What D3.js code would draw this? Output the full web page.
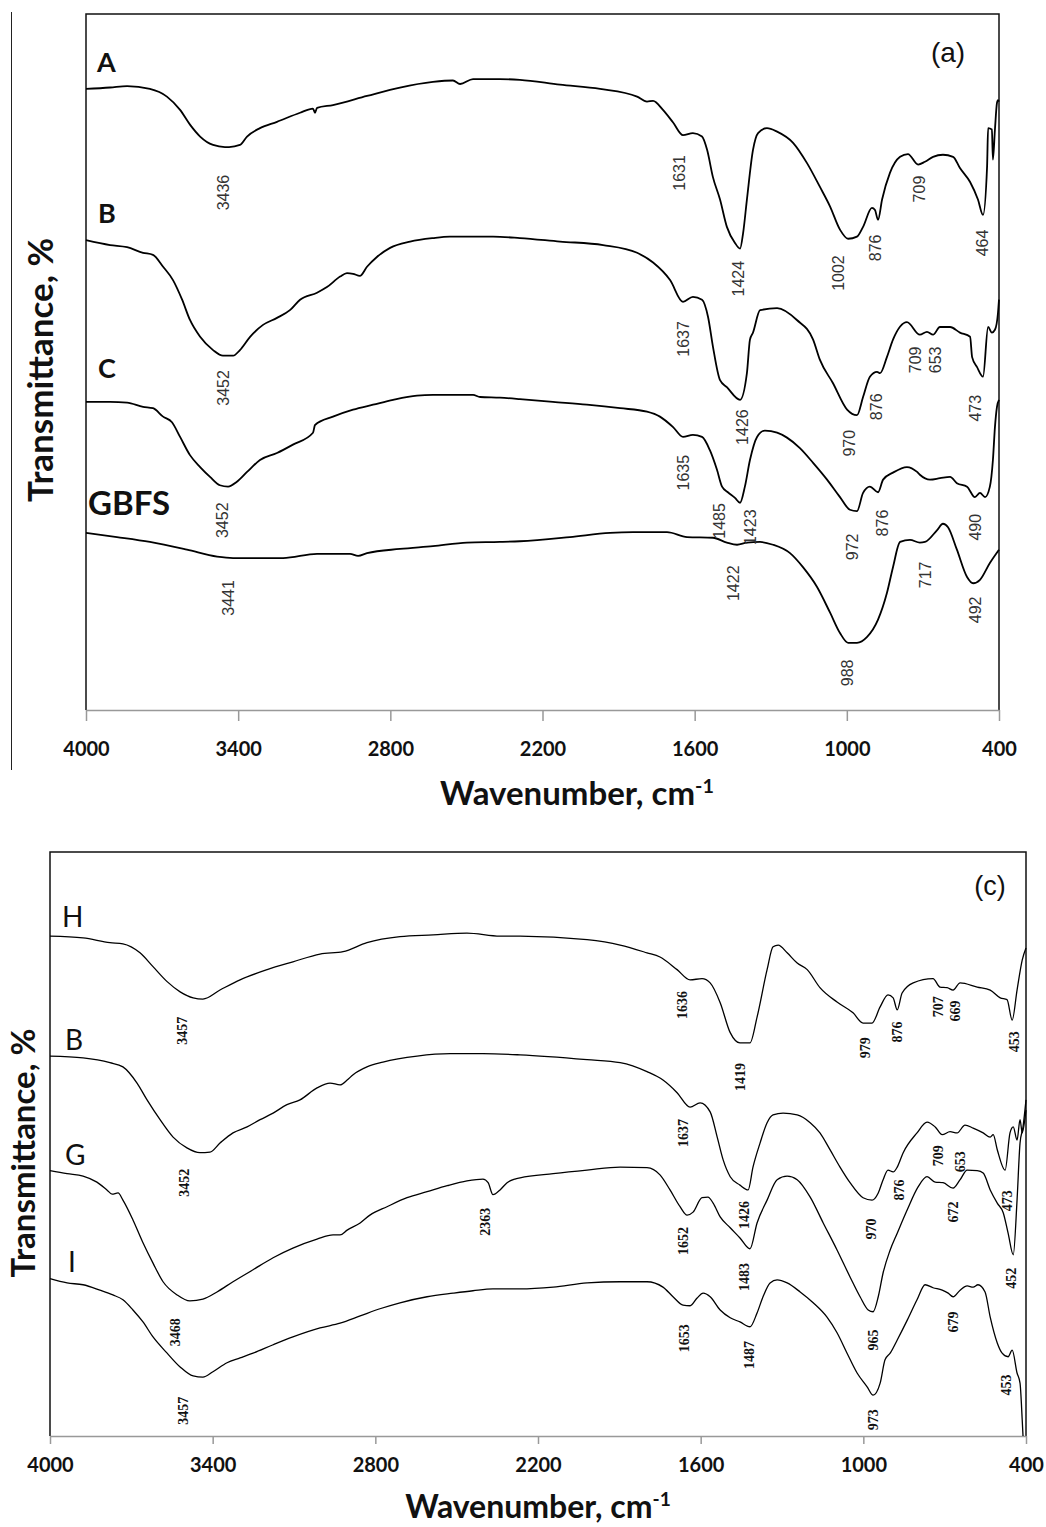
<!DOCTYPE html>
<html>
<head>
<meta charset="utf-8">
<script src="https://cdn.jsdelivr.net/npm/d3@7"></script>
<style>
  html, body { margin: 0; padding: 0; background: #fff; }
  svg { display: block; }
</style>
</head>
<body>
<div id="chart"></div>
<script>
// ---- data: [wavenumber cm-1, transmittance (offset, a.u.)] ----
const specA = [[4000,88.7],[3905,88.9],[3838,89.1],[3748,88.7],[3681,87.6],[3629,85.7],[3590,83.6],[3550,81.9],[3499,80.7],[3452,80.4],[3436,80.4],[3393,80.7],[3365,81.9],[3314,83.1],[3247,84.0],[3156,85.3],[3105,85.9],[3097,85.3],[3089,86.0],[3026,86.4],[2892,87.7],[2762,88.9],[2632,89.7],[2553,89.9],[2525,89.4],[2474,90.1],[2368,90.1],[2289,90.0],[2131,89.3],[1973,88.7],[1827,87.6],[1788,86.9],[1764,87.0],[1725,85.7],[1685,83.9],[1646,82.1],[1607,82.4],[1571,81.9],[1551,80.0],[1528,76.1],[1500,72.9],[1473,69.0],[1441,66.7],[1421,65.9],[1409,68.1],[1394,72.9],[1370,80.0],[1350,82.4],[1315,83.1],[1275,82.6],[1212,81.0],[1157,78.1],[1106,74.7],[1066,71.9],[1027,68.6],[995,67.3],[960,67.6],[936,69.0],[901,71.7],[889,71.4],[877,70.0],[861,72.9],[830,76.7],[790,79.0],[759,79.4],[719,77.9],[692,78.3],[660,79.0],[621,79.3],[581,79.0],[554,77.4],[514,75.4],[483,72.9],[463,70.7],[447,77.6],[443,83.1],[428,82.9],[424,78.6],[416,82.9],[408,86.7],[404,87.1],[400,86.9]];

const specB = [[4000,67.1],[3905,66.4],[3838,66.1],[3775,65.3],[3736,65.0],[3696,63.3],[3657,61.4],[3621,58.6],[3590,55.7],[3550,53.3],[3499,51.4],[3460,50.6],[3420,50.6],[3393,51.4],[3353,53.3],[3302,55.0],[3247,56.0],[3196,57.1],[3156,58.6],[3089,59.6],[3050,60.4],[2998,61.9],[2971,62.4],[2947,62.3],[2920,62.0],[2892,63.3],[2853,64.7],[2801,66.0],[2722,66.9],[2632,67.4],[2565,67.6],[2395,67.6],[2289,67.4],[2131,66.9],[1961,66.4],[1827,65.3],[1764,63.9],[1697,61.4],[1646,58.3],[1607,59.0],[1571,58.6],[1547,56.1],[1528,51.9],[1500,47.1],[1473,46.1],[1421,44.3],[1394,48.1],[1382,52.9],[1370,53.9],[1342,57.1],[1275,57.4],[1197,55.7],[1133,52.9],[1106,50.0],[1055,46.7],[999,42.9],[960,42.1],[936,44.7],[909,47.6],[881,48.3],[869,48.1],[842,50.4],[818,52.9],[763,55.4],[712,53.6],[684,54.0],[660,53.6],[633,54.7],[593,54.7],[554,53.9],[514,53.3],[506,50.4],[487,49.0],[463,47.6],[443,54.7],[428,53.9],[416,54.3],[404,56.7],[400,58.6]];

const specC = [[4000,44.0],[3905,44.0],[3838,43.9],[3775,43.3],[3736,43.1],[3696,41.9],[3661,41.1],[3629,39.0],[3590,36.4],[3550,34.7],[3511,33.3],[3472,32.1],[3440,31.9],[3405,32.6],[3365,34.0],[3314,35.7],[3247,36.7],[3184,37.9],[3105,39.6],[3097,40.7],[3026,41.9],[2947,42.9],[2868,43.6],[2789,44.3],[2695,44.9],[2632,45.0],[2474,45.0],[2446,44.7],[2368,44.6],[2289,44.4],[2159,44.0],[2025,43.6],[1894,43.1],[1788,42.6],[1737,41.9],[1685,40.4],[1646,39.0],[1607,39.3],[1571,39.0],[1540,37.1],[1512,34.3],[1492,31.9],[1469,31.1],[1441,30.3],[1421,29.6],[1402,31.9],[1382,35.7],[1354,39.0],[1323,39.9],[1275,39.6],[1236,38.9],[1185,37.4],[1133,35.3],[1078,32.9],[1027,30.4],[988,28.6],[960,28.4],[936,31.0],[909,31.9],[877,31.1],[857,32.9],[818,33.9],[763,34.7],[723,34.0],[712,33.6],[672,32.9],[633,33.1],[593,33.3],[566,32.4],[526,31.9],[495,30.4],[475,31.0],[455,30.4],[436,31.9],[424,35.7],[416,40.4],[408,43.3],[400,44.3]];

const specGBFS = [[4000,25.3],[3878,24.7],[3748,24.0],[3602,22.9],[3483,21.9],[3420,21.7],[3223,21.7],[3089,22.3],[2959,22.3],[2927,22.0],[2892,22.4],[2762,23.0],[2632,23.4],[2498,23.9],[2368,24.0],[2289,24.1],[2092,24.7],[1934,25.3],[1843,25.4],[1709,25.4],[1630,24.7],[1528,24.6],[1473,23.9],[1433,23.6],[1394,23.9],[1342,24.0],[1291,23.6],[1224,22.4],[1173,20.4],[1118,17.6],[1066,13.9],[1027,11.0],[995,9.6],[960,9.6],[921,10.4],[877,12.9],[842,16.7],[818,20.4],[790,24.0],[751,24.3],[712,23.9],[692,24.0],[644,25.7],[621,26.6],[601,26.1],[566,22.9],[526,19.0],[502,18.1],[475,18.6],[436,21.0],[400,22.9]];

const specH = [[4000,83.3],[3878,83.0],[3779,82.2],[3731,82.0],[3668,80.5],[3620,78.2],[3568,75.7],[3520,74.0],[3472,73.0],[3436,72.8],[3373,74.3],[3299,76.0],[3199,77.7],[3104,79.0],[3004,80.3],[2919,80.7],[2831,82.2],[2709,83.2],[2587,83.5],[2462,83.8],[2340,83.3],[2266,83.3],[2019,82.7],[1897,81.8],[1798,80.5],[1750,79.8],[1687,77.7],[1639,76.0],[1595,76.2],[1565,75.5],[1528,72.2],[1491,67.2],[1455,65.5],[1418,65.5],[1392,69.8],[1355,77.7],[1333,81.5],[1314,81.8],[1281,80.5],[1244,78.8],[1207,77.7],[1160,74.7],[1097,72.3],[1038,70.5],[1001,68.8],[968,68.8],[938,71.5],[909,73.5],[890,73.0],[875,71.0],[857,73.8],[816,75.5],[743,76.2],[717,74.8],[691,74.7],[669,74.3],[643,75.5],[580,74.8],[532,74.3],[495,73.0],[470,72.7],[451,69.3],[433,74.3],[414,79.3],[400,81.3]];

const specB2 = [[4000,63.3],[3878,63.0],[3779,62.2],[3731,61.5],[3679,58.8],[3642,56.0],[3594,52.7],[3546,49.8],[3495,48.0],[3447,47.2],[3410,47.3],[3373,48.8],[3325,50.5],[3273,51.5],[3225,52.7],[3177,53.8],[3126,55.2],[3078,56.0],[3015,58.0],[2967,58.8],[2930,58.5],[2904,59.3],[2882,60.2],[2831,61.5],[2772,62.3],[2646,63.3],[2524,63.7],[2403,63.7],[2266,63.5],[2019,62.7],[1897,62.2],[1798,60.7],[1739,59.3],[1687,57.2],[1639,54.8],[1602,55.5],[1565,54.0],[1539,49.8],[1517,46.0],[1491,43.2],[1455,41.8],[1425,41.0],[1407,44.8],[1381,48.8],[1355,52.2],[1333,53.5],[1296,53.8],[1244,53.5],[1196,52.2],[1160,50.5],[1123,47.7],[1086,44.8],[1049,42.2],[1001,39.7],[968,39.3],[945,40.5],[927,42.7],[909,44.3],[890,44.0],[875,44.8],[853,47.2],[802,50.5],[765,52.3],[735,51.5],[709,50.2],[680,50.7],[654,50.5],[625,51.8],[595,51.3],[558,50.5],[532,49.8],[521,50.2],[506,47.7],[477,44.3],[459,50.5],[447,51.5],[433,49.3],[422,52.7],[414,50.5],[403,53.2],[400,54.3]];

const specG = [[4000,44.2],[3937,43.7],[3878,43.3],[3827,42.3],[3790,41.0],[3771,40.3],[3749,40.5],[3731,39.3],[3694,36.0],[3657,32.2],[3620,28.8],[3583,25.7],[3531,23.5],[3484,22.5],[3436,22.8],[3384,24.0],[3325,25.7],[3251,27.7],[3177,29.7],[3104,31.3],[3015,32.8],[2956,33.5],[2930,33.5],[2904,34.3],[2856,35.5],[2820,36.8],[2757,38.2],[2683,39.7],[2609,40.7],[2535,41.7],[2462,42.5],[2403,42.8],[2384,42.2],[2366,40.2],[2340,41.0],[2314,42.2],[2285,42.8],[2266,43.0],[2144,43.7],[2019,44.3],[1897,44.8],[1798,44.7],[1750,43.5],[1713,41.0],[1676,38.2],[1650,36.8],[1628,37.3],[1595,39.7],[1573,39.8],[1554,38.8],[1528,36.5],[1491,34.7],[1455,33.0],[1418,31.2],[1392,35.5],[1355,39.3],[1318,42.7],[1281,43.3],[1244,42.7],[1196,39.8],[1148,35.5],[1097,31.0],[1049,26.5],[1012,23.2],[982,21.0],[964,20.7],[945,23.2],[927,27.2],[901,31.0],[875,33.8],[838,37.7],[798,41.5],[765,43.2],[735,42.3],[706,42.2],[669,41.3],[643,42.7],[617,44.3],[580,44.2],[558,43.8],[532,41.0],[506,38.8],[484,37.2],[466,33.8],[447,30.2],[433,39.3],[422,48.8],[411,51.5],[400,56.0]];

const specI = [[4000,26.2],[3937,25.5],[3878,25.2],[3816,24.3],[3768,23.5],[3731,22.7],[3694,21.0],[3657,19.0],[3620,16.5],[3568,13.8],[3520,11.5],[3472,10.0],[3436,9.8],[3399,10.7],[3347,12.2],[3299,13.0],[3251,13.8],[3177,15.2],[3104,16.5],[3004,18.0],[2930,18.8],[2856,20.0],[2783,21.2],[2709,22.2],[2609,23.2],[2513,23.8],[2440,24.2],[2366,24.5],[2266,24.5],[2144,24.8],[2019,25.5],[1897,25.7],[1798,25.7],[1739,24.8],[1702,23.2],[1665,21.8],[1639,21.7],[1613,23.0],[1591,23.8],[1565,23.2],[1528,21.0],[1491,19.7],[1455,19.0],[1418,18.2],[1392,20.5],[1370,23.2],[1344,25.5],[1318,26.0],[1281,25.5],[1233,24.0],[1185,22.2],[1134,19.8],[1097,17.2],[1060,13.8],[1023,10.5],[986,8.2],[964,6.8],[938,8.8],[920,12.7],[901,13.8],[875,16.0],[838,19.3],[802,22.7],[772,25.2],[743,24.7],[709,24.3],[687,23.8],[669,23.2],[643,24.3],[617,25.0],[595,24.8],[577,25.2],[551,24.0],[532,19.8],[506,15.5],[488,13.8],[466,13.2],[451,14.3],[433,10.5],[422,8.8],[414,2.7],[411,0]];

// sample names: [name, wavenumber, transmittance] (left baseline)
const namesA = [["A",3957,91.1],["B",3953,69.6],["C",3953,47.4],["GBFS",3992,27.9]];
const namesC = [["H",3956,84.8],["B",3945,64.3],["G",3945,45.2],["I",3934,27.3]];

// peak annotations: [text, wavenumber, transmittance] (label centre)
const peaksA = [
  ["3436",3460,73.9],["1631",1662,76.7],["1424",1429,61.6],["1002",1035,62.4],["876",889,66.0],["709",712,74.4],["464",467,66.7],
  ["3452",3460,46.0],["1637",1646,53.0],["1426",1413,40.4],["970",988,38.1],["876",885,43.3],["709",731,50.0],["653",652,50.0],["473",495,43.1],
  ["3452",3464,27.1],["1635",1646,33.9],["1485",1504,27.0],["1423",1382,26.1],["972",980,23.3],["876",861,26.7],["490",495,26.1],
  ["3441",3440,16.0],["1422",1449,18.1],["717",692,19.3],["492",495,14.3],["988",999,5.3]
];
const peaksC = [
  ["3457",3513,67.5],["1636",1669,71.8],["1419",1455,59.8],["979",993,64.7],["876",875,67.3],["707",724,71.5],["669",661,70.8],["453",444,65.7],
  ["3452",3506,42.2],["1637",1665,50.5],["1426",1440,36.8],["970",971,34.5],["876",868,41.0],["709",724,46.7],["653",643,45.7],
  ["2363",2395,35.7],["1652",1665,32.5],["672",669,37.3],["473",470,39.2],["1483",1440,26.5],["452",455,26.3],
  ["3468",3539,17.3],["965",964,16.0],["679",669,19.0],["1653",1661,16.3],["1487",1421,13.5],["3457",3509,4.2],["453",473,8.5],["973",964,2.7]
];

const xTicks = [4000, 3400, 2800, 2200, 1600, 1000, 400];

const W = 1046, H = 1527;
const svg = d3.select("#chart").append("svg")
  .attr("width", W).attr("height", H)
  .style("font-family", "Lato, 'Open Sans', sans-serif");

// figure border line at the far left of the upper panel
svg.append("line")
  .attr("x1", 11.5).attr("x2", 11.5).attr("y1", 12).attr("y2", 770)
  .attr("stroke", "#222").attr("stroke-width", 1);

function drawPanel(cfg) {
  const x = d3.scaleLinear().domain([4000, 400]).range([cfg.left, cfg.right]);
  const y = d3.scaleLinear().domain([0, cfg.tMax]).range([cfg.bottom, cfg.top]);

  const g = svg.append("g");

  // frame: top, left, right black; bottom axis grey
  g.append("path")
    .attr("d", `M${cfg.left},${cfg.bottom}V${cfg.top}H${cfg.right}V${cfg.bottom}`)
    .attr("fill", "none").attr("stroke", "#111").attr("stroke-width", 1.5);

  const axis = d3.axisBottom(x).tickValues(xTicks).tickSize(cfg.tickLen).tickSizeOuter(0).tickFormat(d3.format("d"));
  const ax = g.append("g").attr("transform", `translate(0,${cfg.bottom})`).call(axis);
  ax.select(".domain").attr("stroke", "#999").attr("stroke-width", 1.5);
  ax.selectAll(".tick line").attr("stroke", "#999").attr("stroke-width", 1.5);
  ax.selectAll(".tick text")
    .attr("y", cfg.tickLabelDy).attr("dy", 0)
    .attr("fill", "#111")
    .style("font-family", "Lato, sans-serif")
    .style("font-weight", "bold")
    .style("font-size", "20px");

  const line = d3.line().x(d => x(d[0])).y(d => y(d[1])).curve(d3.curveMonotoneX);
  cfg.series.forEach(s => {
    g.append("path").datum(s)
      .attr("d", line)
      .attr("fill", "none")
      .attr("stroke", "#000")
      .attr("stroke-width", cfg.lineWidth)
      .attr("stroke-linejoin", "round");
  });

  // sample names
  g.selectAll(".name").data(cfg.names).enter().append("text")
    .attr("class", "name")
    .attr("x", d => x(d[1])).attr("y", d => y(d[2]))
    .style("font-family", "Lato, sans-serif")
    .style("font-weight", cfg.nameWeight)
    .style("font-size", d => (d[0] === "GBFS" ? cfg.nameSize + 6 : cfg.nameSize) + "px")
    .attr("fill", "#111")
    .text(d => d[0]);

  // peak labels, rotated
  g.selectAll(".peak").data(cfg.peaks).enter().append("text")
    .attr("class", "peak")
    .attr("transform", d => `translate(${x(d[1])},${y(d[2])}) rotate(-90)`)
    .attr("text-anchor", "middle")
    .attr("dy", "0.35em")
    .style("font-family", cfg.peakFont)
    .style("font-weight", cfg.peakWeight)
    .style("font-size", cfg.peakSize + "px")
    .attr("fill", cfg.peakColor)
    .text(d => d[0]);

  // panel tag
  g.append("text")
    .attr("x", cfg.tag[1]).attr("y", cfg.tag[2])
    .attr("text-anchor", "middle")
    .style("font-family", "'Liberation Sans', Arial, sans-serif")
    .style("font-size", cfg.tag[3] + "px")
    .attr("fill", "#111")
    .text(cfg.tag[0]);

  // axis titles
  const xt = g.append("text")
    .attr("x", cfg.xTitle[0]).attr("y", cfg.xTitle[1])
    .attr("text-anchor", "middle")
    .style("font-family", "Lato, sans-serif")
    .style("font-weight", "bold")
    .style("font-size", cfg.titleSize + "px")
    .attr("fill", "#111");
  xt.append("tspan").text("Wavenumber, cm");
  xt.append("tspan").attr("dy", -12).style("font-size", (cfg.titleSize * 0.6) + "px").text("-1");

  g.append("text")
    .attr("transform", `translate(${cfg.yTitle[0]},${cfg.yTitle[1]}) rotate(-90)`)
    .attr("text-anchor", "middle")
    .style("font-family", "Lato, sans-serif")
    .style("font-weight", "bold")
    .style("font-size", cfg.yTitle[2] + "px")
    .attr("fill", "#111")
    .text("Transmittance, %");
}

drawPanel({
  left: 86, right: 999, top: 14, bottom: 710, tMax: 99.4,
  tickLen: 11, tickLabelDy: 46,
  series: [specA, specB, specC, specGBFS],
  lineWidth: 1.8,
  names: namesA, nameSize: 27, nameWeight: "bold",
  peaks: peaksA, peakFont: "'Liberation Sans', Arial, sans-serif", peakWeight: "normal", peakSize: 16, peakColor: "#333",
  tag: ["(a)", 948, 62, 28],
  xTitle: [577, 805], yTitle: [53, 370, 35], titleSize: 33
});

drawPanel({
  left: 50, right: 1026, top: 852, bottom: 1436, tMax: 97.3,
  tickLen: 8, tickLabelDy: 36,
  series: [specH, specB2, specG, specI],
  lineWidth: 1.3,
  names: namesC, nameSize: 28, nameWeight: "normal",
  peaks: peaksC, peakFont: "'Liberation Serif', 'Times New Roman', serif", peakWeight: "bold", peakSize: 14, peakColor: "#111",
  tag: ["(c)", 990, 895, 27],
  xTitle: [538, 1518], yTitle: [35, 1153, 33], titleSize: 32
});
</script>
</body>
</html>
